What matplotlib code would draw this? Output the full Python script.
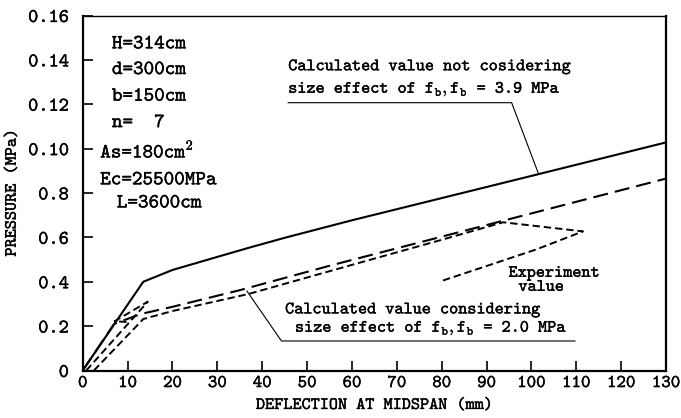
import numpy as np
import matplotlib
matplotlib.use("Agg")
import matplotlib.pyplot as plt
import matplotlib.patheffects as pe

plt.rcParams['font.family'] = ['cmtt10', 'DejaVu Sans']
plt.rcParams['mathtext.fontset'] = 'cm'
plt.rcParams['axes.unicode_minus'] = False

# ---- data ----
x_ticks = [0, 10, 20, 30, 40, 50, 60, 70, 80, 90, 100, 110, 120, 130]
y_tick_values = [0, 0.02, 0.04, 0.06, 0.08, 0.10, 0.12, 0.14, 0.16]
y_tick_labels = ['0', '0.2', '0.4', '0.6', '0.8', '0.10', '0.12', '0.14', '0.16']

# calculated, not considering size effect (fb = 3.9 MPa)
calc_no_size_x = [0, 13.5, 20, 30, 37, 45, 60, 80, 100, 130]
calc_no_size_y = [0, 0.0400, 0.0453, 0.0512, 0.0553, 0.0598, 0.0677, 0.0777, 0.0877, 0.1028]

# calculated, considering size effect (fb = 2.0 MPa)
calc_size_x = [0, 7, 13, 20, 35, 55, 100, 130]
calc_size_y = [0, 0.0210, 0.0255, 0.0287, 0.0362, 0.0472, 0.0708, 0.0865]

# experiment (two branches)
exp_x = [0.8, 14.5, 7.1, 10.3, np.nan, 2.5, 13.5, 20, 37, 60, 80, 93.7, 111.5, 101, 80.2]
exp_y = [0, 0.0310, 0.0222, 0.0218, np.nan, 0, 0.0232, 0.0268, 0.0345, 0.0476, 0.0589, 0.0668, 0.0627, 0.0545, 0.0405]

params = ["H=314cm", "d=300cm", "b=150cm", "n=  7", "As=180cm$^2$", "Ec=25500MPa", "L=3600cm"]
params_x = [6.5, 6.5, 6.5, 6.5, 3.9, 3.9, 7.6]
params_y = [0.1470, 0.1354, 0.1234, 0.1115, 0.0986, 0.0857, 0.0753]

bold = [pe.withStroke(linewidth=0.25, foreground='black')]

fig = plt.figure(figsize=(6.81, 4.18), dpi=100)
ax = fig.add_axes([82.7/681, 1-370.5/418, (666-82.7)/681, (370.5-15.5)/418])

ax.plot(calc_no_size_x, calc_no_size_y, color='black', lw=1.5, solid_capstyle='butt')
ax.plot(calc_size_x, calc_size_y, color='black', lw=1.5, linestyle=(0, (7.2, 3.4)))
ax.plot(exp_x, exp_y, color='black', lw=1.4, linestyle=(0, (3.8, 2.0)))

ax.set_xlim(0, 130)
ax.set_ylim(0, 0.16)
ax.set_xticks(x_ticks)
ax.set_xticklabels([str(v) for v in x_ticks], fontsize=13)
ax.set_yticks(y_tick_values)
ax.set_yticklabels(y_tick_labels, fontsize=14)
ax.tick_params(axis='x', direction='in', length=7, width=1.2, pad=4)
ax.tick_params(axis='y', direction='in', length=7, width=1.2, pad=10)
for lbl in ax.get_xticklabels() + ax.get_yticklabels():
    lbl.set_path_effects(bold)
for side in ['left', 'bottom', 'right']:
    ax.spines[side].set_linewidth(1.6)
ax.spines['top'].set_linewidth(1.0)

ax.set_xlabel("DEFLECTION AT MIDSPAN (mm)", fontsize=12.5, labelpad=5, path_effects=bold)
ax.set_ylabel("PRESSURE (MPa)", fontsize=12.5, labelpad=6, path_effects=bold)

for t, px, py in zip(params, params_x, params_y):
    ax.text(px, py, t, fontsize=14.5, ha='left', va='center', path_effects=bold)

# upper annotation
ax.text(45.8, 0.1369, "Calculated value not cosidering", fontsize=12.5, ha='left', va='center', path_effects=bold)
ax.text(45.8, 0.1267, r"size effect of $\mathtt{f_b,f_b}$ = 3.9 MPa", fontsize=12.5, ha='left', va='center', path_effects=bold)
ax.plot([45.8, 95.6, 101.5], [0.1207, 0.1207, 0.0891], color='black', lw=0.8)

# lower annotation
ax.text(45.1, 0.0273, "Calculated value considering", fontsize=12.5, ha='left', va='center', path_effects=bold)
ax.text(47.3, 0.0190, r"size effect of $\mathtt{f_b,f_b}$ = 2.0 MPa", fontsize=12.5, ha='left', va='center', path_effects=bold)
ax.plot([109.7, 44.3, 36.6], [0.0133, 0.0133, 0.0358], color='black', lw=0.8)

# experiment label
ax.text(94.9, 0.0438, "Experiment", fontsize=12.5, ha='left', va='center', path_effects=bold)
ax.text(97.1, 0.0375, "value", fontsize=12.5, ha='left', va='center', path_effects=bold)

fig.savefig("out.png", dpi=100)
